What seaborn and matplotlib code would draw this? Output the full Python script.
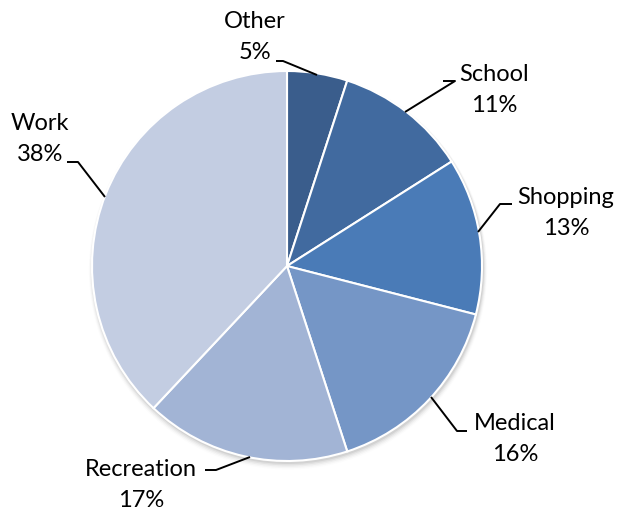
import matplotlib
matplotlib.use("Agg")
import matplotlib.pyplot as plt
import seaborn as sns
import numpy as np
from matplotlib.patches import Circle

sns.set_theme(style="white")
plt.rcParams['font.family'] = ['Lato', 'DejaVu Sans']

categories = ["Other", "School", "Shopping", "Medical", "Recreation", "Work"]
values = [5, 11, 13, 16, 17, 38]
colors = ["#3a5d8c", "#416a9f", "#4a7bb7", "#7596c6", "#a2b4d5", "#c3cde2"]

W, H = 620, 510
fig = plt.figure(figsize=(W / 100, H / 100), dpi=100)
ax = fig.add_axes([0, 0, 1, 1])

cx, cy, r = 287, H - 267, 195

# soft shadow
for i, a in enumerate(np.linspace(0.06, 0.01, 5)):
    ax.add_patch(Circle((cx + 1, cy - 2 - i * 0.6), r + 1 + i * 0.8,
                        facecolor="black", alpha=a, edgecolor="none", zorder=0))

ax.pie(values, colors=colors, startangle=90, counterclock=False,
       center=(cx, cy), radius=r, frame=True,
       wedgeprops=dict(edgecolor="white", linewidth=1.5, zorder=2))
ax.set_xlim(0, W)
ax.set_ylim(0, H)
ax.set_aspect("equal")
ax.axis("off")

layout = {
    "Other":      dict(t=(255, 37), line=[(317, 76), (283, 62), (276, 62)]),
    "School":     dict(t=(494, 90), line=[(405, 113), (455, 82), (443, 82)]),
    "Shopping":   dict(t=(566, 213), line=[(478, 233), (500, 205), (512, 205)]),
    "Medical":    dict(t=(515, 439), line=[(431, 398), (457, 432), (467, 432)]),
    "Recreation": dict(t=(141, 485), line=[(250, 458), (216, 471), (205, 471)]),
    "Work":       dict(t=(40, 139), line=[(105, 198), (78, 163), (67, 163)]),
}

for cat, val in zip(categories, values):
    L = layout[cat]
    xs = [p[0] for p in L["line"]]
    ys = [H - p[1] for p in L["line"]]
    ax.plot(xs, ys, color="black", lw=1.4, zorder=3, solid_capstyle="butt")
    tx, ty = L["t"]
    ax.text(tx, H - ty, f"{cat}\n{val}%", ha="center", va="center",
            fontsize=17, color="black", linespacing=1.6, zorder=4)

fig.savefig("out.png", dpi=100, facecolor="white")
